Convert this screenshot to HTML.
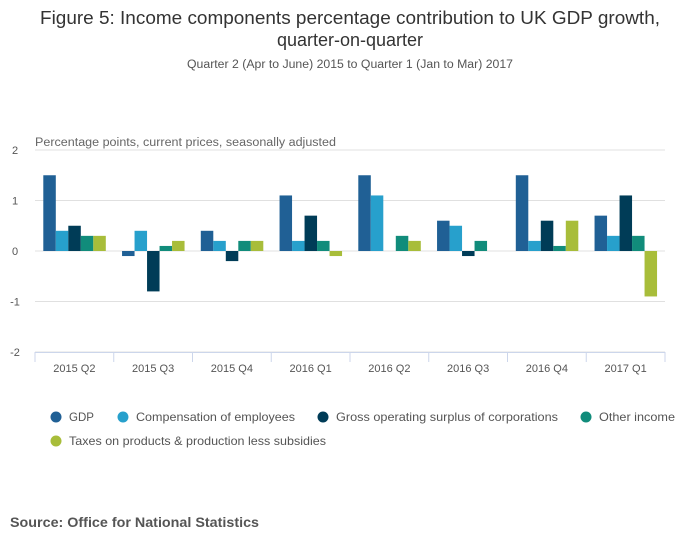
<!DOCTYPE html>
<html><head><meta charset="utf-8"><style>
html,body{margin:0;padding:0;background:#fff;width:700px;height:549px;overflow:hidden}
svg{display:block;font-family:"Liberation Sans",sans-serif}
</style></head><body>
<svg id="chart" width="700" height="549" viewBox="0 0 700 549">
<text x="350" y="24" text-anchor="middle" font-size="18" fill="#333" textLength="620" lengthAdjust="spacingAndGlyphs">Figure 5: Income components percentage contribution to UK GDP growth,</text>
<text x="350" y="46" text-anchor="middle" font-size="18" fill="#333">quarter-on-quarter</text>
<text x="350" y="68" text-anchor="middle" font-size="11.5" fill="#555" textLength="326" lengthAdjust="spacingAndGlyphs">Quarter 2 (Apr to June) 2015 to Quarter 1 (Jan to Mar) 2017</text>
<text x="35" y="146" font-size="11.5" fill="#666" textLength="301" lengthAdjust="spacingAndGlyphs">Percentage points, current prices, seasonally adjusted</text>
<g id="grid"></g><g id="bars"></g><g id="xaxis"></g><g id="legend"></g>
<text x="10" y="527" font-size="13.5" font-weight="bold" fill="#555" textLength="249" lengthAdjust="spacingAndGlyphs">Source: Office for National Statistics</text>
</svg>
<script>
const categories=["2015 Q2","2015 Q3","2015 Q4","2016 Q1","2016 Q2","2016 Q3","2016 Q4","2017 Q1"];
const seriesNames=["GDP","Compensation of employees","Gross operating surplus of corporations","Other income","Taxes on products & production less subsidies"];
const gdp=[1.5,-0.1,0.4,1.1,1.5,0.6,1.5,0.7];
const compensation=[0.4,0.4,0.2,0.2,1.1,0.5,0.2,0.3];
const grossOperating=[0.5,-0.8,-0.2,0.7,0,-0.1,0.6,1.1];
const otherIncome=[0.3,0.1,0.2,0.2,0.3,0.2,0.1,0.3];
const taxes=[0.3,0.2,0.2,-0.1,0.2,0,0.6,-0.9];
const yTicks=[2,1,0,-1,-2];
const colors=["#206095","#27a0cc","#003c57","#118c7b","#a8bd3a"];
const series=[gdp,compensation,grossOperating,otherIncome,taxes];
const NS="http://www.w3.org/2000/svg";
const x0=35,x1=665,yTop=150,yBot=352;
const band=(x1-x0)/categories.length;
const y=v=>251-v*50.5;
const xb=(i,s)=>x0+i*band+8.3+s*12.5;
function mk(tag,attrs,parent){const e=document.createElementNS(NS,tag);for(const k in attrs)e.setAttribute(k,attrs[k]);parent.appendChild(e);return e;}
const grid=document.getElementById('grid');
yTicks.forEach(t=>{
 const l=mk('line',{x1:x0,x2:x1,y1:y(t),y2:y(t),stroke:"#e0e0e0","stroke-width":1},grid);
 
 
 const tx=mk('text',{x:15,y:y(t)+4,"font-size":11,fill:"#555","text-anchor":"middle"},grid);
 tx.textContent=t;
 
 
});
const bars=document.getElementById('bars');
series.forEach((arr,s)=>arr.forEach((v,i)=>{
 if(v===0)return;
 const r=mk('rect',{x:xb(i,s),y:Math.min(y(v),y(0)),width:12.5,height:Math.abs(y(v)-y(0)),fill:colors[s]},bars);
 
 
}));
const xa=document.getElementById('xaxis');
const al=mk('line',{x1:x0,x2:x1,y1:yBot+0.5,y2:yBot+0.5,stroke:"#ccd6eb"},xa);


for(let i=0;i<=categories.length;i++){
 const tk=mk('line',{x1:x0+i*band,x2:x0+i*band,y1:yBot,y2:yBot+10,stroke:"#ccd6eb"},xa);
 
 
}
categories.forEach((c,i)=>{
 const t=mk('text',{x:x0+(i+0.5)*band,y:372,"font-size":11,fill:"#555","text-anchor":"middle"},xa);
 t.textContent=c;
 
 
});
const lg=document.getElementById('legend');
// [circle x, baseline y, text width]
const lpos=[[56,421,25],[123,421,159],[323,421,222],[586,421,76],[56,445,257]];
seriesNames.forEach((n,s)=>{
 const g=mk('g',{},lg);
 
 
 mk('circle',{cx:lpos[s][0],cy:lpos[s][1]-4,r:5.5,fill:colors[s]},g);
 const t=mk('text',{x:lpos[s][0]+13,y:lpos[s][1],"font-size":12,fill:"#555",textLength:lpos[s][2],lengthAdjust:"spacingAndGlyphs"},g);
 t.textContent=n;
});
</script>
</body></html>
